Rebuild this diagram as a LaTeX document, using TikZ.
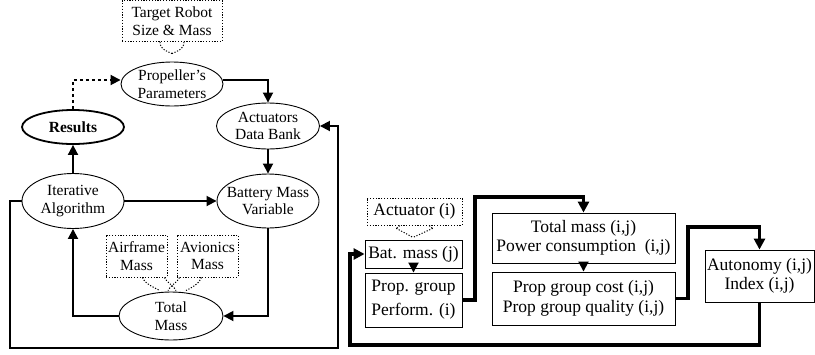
\documentclass[tikz,border=0pt]{standalone}
\usepackage{fontspec}
\setmainfont{Liberation Serif}
\usetikzlibrary{shapes.geometric,arrows.meta}
\begin{document}
\begin{tikzpicture}[x=1pt,y=-1pt,
  lfont/.style={font=\fontsize{15.5}{17.5}\selectfont},
  rfont/.style={font=\fontsize{17.5}{20}\selectfont},
  ell/.style={draw,ellipse,line width=0.9pt,inner xsep=-8pt,inner ysep=-4pt,align=center,lfont},
  dots/.style={dash pattern=on 1.2pt off 1.6pt},
  dbox/.style={draw,dots,line width=1pt,inner sep=0pt,align=center,lfont},
  sbox/.style={draw,line width=0.9pt,inner sep=0pt,align=center,rfont},
  arr/.style={line width=1.8pt,-{Triangle[length=10pt,width=10pt]}},
  tarr/.style={line width=3.6pt,-{Triangle[length=11pt,width=11pt]}},
  dcurve/.style={dots,line width=1pt}
]
\useasboundingbox (0,0) rectangle (815,354);
% left part
\node[dbox,minimum width=100pt,minimum height=41pt] (tgt) at (172,21) {Target Robot\\Size \& Mass};
\node[ell,minimum width=102pt,minimum height=44pt] (prop) at (172,84) {Propeller's\\Parameters};
\node[ell,minimum width=102pt,minimum height=34pt,line width=1.8pt,font=\fontsize{15.5}{17.5}\selectfont\bfseries] (res) at (73,127) {Results};
\node[ell,minimum width=103pt,minimum height=46pt] (act) at (268,126) {Actuators\\Data Bank};
\node[ell,minimum width=102pt,minimum height=54pt] (bat) at (268,201) {Battery Mass\\Variable};
\node[ell,minimum width=102pt,minimum height=55pt] (iter) at (73,201) {Iterative\\Algorithm};
\node[ell,minimum width=104pt,minimum height=48pt] (tot) at (171,316) {Total\\Mass};
\node[dbox,minimum width=61pt,minimum height=42pt] (air) at (136.5,256) {Airframe\\Mass};
\node[dbox,minimum width=61pt,minimum height=42pt] (avi) at (207.5,256) {Avionics\\Mass};
% right part
\node[sbox,dots,minimum width=95pt,minimum height=27pt] (actu) at (414.5,211.5) {Actuator (i)};
\node[sbox,minimum width=97pt,minimum height=28pt] (batm) at (413.5,254) {Bat. mass (j)};
\node[sbox,minimum width=97pt,minimum height=54pt,font=\fontsize{17.5}{24}\selectfont] (pg) at (413.5,300) {Prop. group\\Perform. (i)};
\node[sbox,minimum width=183pt,minimum height=50pt,font=\fontsize{17.5}{18.5}\selectfont] (tm) at (583.5,238) {Total mass (i,j)\\Power consumption~~(i,j)};
\node[sbox,minimum width=183pt,minimum height=53pt] (pc) at (583.5,298.5) {Prop group cost (i,j)\\Prop group quality (i,j)};
\node[sbox,minimum width=109pt,minimum height=52pt,font=\fontsize{17.5}{19}\selectfont] (au) at (759.5,276) {Autonomy (i,j)\\Index (i,j)};
\coordinate (lp1) at (10,348);
\coordinate (lp2) at (338,348);
\coordinate (rp1) at (475,197);
\coordinate (rp2) at (688,227);
\coordinate (rp3) at (350,345);
% dotted Y connectors
\draw[dcurve] ([xshift=-12pt]tgt.south) .. controls +(0,8) and +(-4,-2) .. ([yshift=8pt]prop.north);
\draw[dcurve] ([xshift=12pt]tgt.south) .. controls +(0,8) and +(4,-2) .. ([yshift=8pt]prop.north);
\draw[dcurve] ([xshift=6pt]air.south) .. controls +(2,6) and +(-6,-3) .. ([xshift=-11pt,yshift=1pt]tot.north);
\draw[dcurve] ([xshift=-3pt]air.south east) .. controls +(2,5) and +(-2,-5) .. ([xshift=5pt,yshift=1pt]tot.north);
\draw[dcurve] ([xshift=-6pt]avi.south) .. controls +(-2,6) and +(6,-3) .. ([xshift=15pt,yshift=1pt]tot.north);
\draw[dcurve] ([xshift=3pt]avi.south west) .. controls +(-2,5) and +(2,-5) .. ([xshift=-3pt,yshift=1pt]tot.north);
\draw[dcurve] ([xshift=-15pt]actu.south) .. controls +(0,3) and +(-3,0) .. ++(-3,3) -- ([xshift=-1.5pt,yshift=-12pt]actu.south);
\draw[dcurve] ([xshift=15pt]actu.south) .. controls +(0,3) and +(3,0) .. ++(3,3) -- ([xshift=-1.5pt,yshift=-12pt]actu.south);
% left arrows
\draw[arr,dashed] (res.north) |- ([yshift=4pt]prop.west);
\draw[arr] ([yshift=4pt]prop.east) -| (act.north);
\draw[arr] (act.south) -- (bat.north);
\draw[arr] (iter.north) -- (res.south);
\draw[arr] (iter.east) -- (iter.east -| bat.west);
\draw[arr] (bat.south) |- (tot.east);
\draw[arr] (tot.west) -| (iter.south);
\draw[arr] (iter.west) -| (lp1) -- (lp2) |- (act.east);
% right arrows
\draw[arr] (batm.south) -- (pg.north);
\draw[arr] (tm.south) -- (pc.north);
\draw[tarr] (pg.east) -| (rp1) -| (tm.north);
\draw[tarr] (pc.east) -| (rp2) -| (au.north);
\draw[tarr] (au.south) |- (rp3) |- (batm.west);
\end{tikzpicture}
\end{document}
